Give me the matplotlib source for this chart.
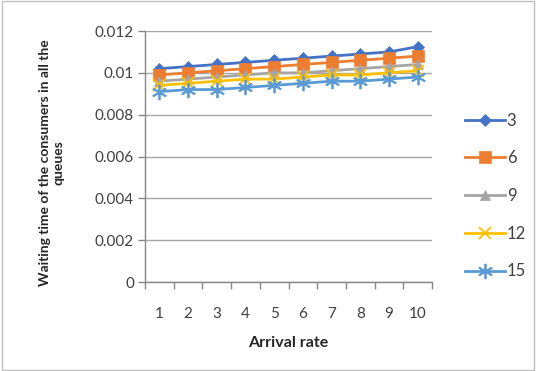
import matplotlib
matplotlib.use("Agg")
import matplotlib.pyplot as plt
from matplotlib.patches import Rectangle

plt.rcParams['font.family'] = ['Lato', 'DejaVu Sans']

arrival_rate = [1, 2, 3, 4, 5, 6, 7, 8, 9, 10]
series_names = ['3', '6', '9', '12', '15']
wait_3 = [0.0102, 0.0103, 0.0104, 0.0105, 0.0106, 0.0107, 0.0108, 0.0109, 0.0110, 0.01125]
wait_6 = [0.0099, 0.0100, 0.0101, 0.0102, 0.0103, 0.0104, 0.0105, 0.0106, 0.0107, 0.0108]
wait_9 = [0.0096, 0.0097, 0.0098, 0.0099, 0.0100, 0.0100, 0.0101, 0.0102, 0.0103, 0.0104]
wait_12 = [0.0094, 0.0095, 0.0096, 0.0097, 0.0097, 0.0098, 0.0099, 0.0099, 0.0100, 0.0101]
wait_15 = [0.0091, 0.0092, 0.0092, 0.0093, 0.0094, 0.0095, 0.0096, 0.0096, 0.0097, 0.0098]
y_ticks = [0, 0.002, 0.004, 0.006, 0.008, 0.01, 0.012]
y_tick_labels = ['0', '0.002', '0.004', '0.006', '0.008', '0.01', '0.012']

colors = ['#4472C4', '#ED7D31', '#A5A5A5', '#FFC000', '#5B9BD5']
markers = ['D', 's', '^', 'x', (6, 2, 0)]
msizes = [6, 8, 7, 9, 11]

fig = plt.figure(figsize=(5.36, 3.71), dpi=100)
fig.patches.append(Rectangle((0.003, 0.003), 0.994, 0.994, transform=fig.transFigure,
                             fill=False, edgecolor='#BFBFBF', linewidth=1))

W, H = 536, 371
left, right, top, bottom = 145, 432, 31, 282
ax = fig.add_axes([left / W, 1 - bottom / H, (right - left) / W, (bottom - top) / H])

for vals, name, c, m, ms in zip([wait_3, wait_6, wait_9, wait_12, wait_15],
                                series_names, colors, markers, msizes):
    ax.plot(arrival_rate, vals, color=c, linewidth=2.0, marker=m, markersize=ms,
            markeredgewidth=1.3 if m in ('x', (6, 2, 0)) else 0.5,
            markeredgecolor=c, markerfacecolor=c, label=name, zorder=3)

ax.set_xlim(0.5, 10.5)
ax.set_ylim(0, 0.012)
ax.set_yticks(y_ticks)
ax.set_yticklabels(y_tick_labels)
ax.set_xticks(arrival_rate)
ax.set_xticks([x + 0.5 for x in [0] + arrival_rate], minor=True)
ax.tick_params(axis='x', which='major', length=0, pad=18, labelsize=11, colors='#404040')
ax.tick_params(axis='x', which='minor', length=5, color='#868686', width=1)
ax.tick_params(axis='y', length=5, color='#868686', width=1, labelsize=11,
               labelcolor='#404040', pad=3)
ax.grid(axis='y', color='#A6A6A6', linewidth=1)
ax.set_axisbelow(True)
for s in ('top', 'right'):
    ax.spines[s].set_visible(False)
ax.spines['left'].set_color('#868686')
ax.spines['bottom'].set_color('#868686')
ax.spines['left'].set_linewidth(1)
ax.spines['bottom'].set_linewidth(1)

ax.set_xlabel('Arrival rate', fontsize=11.5, fontweight='bold', color='#262626', labelpad=11)
fig.text(52 / W, 1 - 163 / H, 'Waiting time of the consumers in all the\nqueues',
         rotation=90, ha='center', va='center', fontsize=10, fontweight='bold',
         color='#262626', linespacing=1.1, multialignment='center')

handles, labels = ax.get_legend_handles_labels()
leg = fig.legend(handles, labels, loc='center left',
                 bbox_to_anchor=(450 / W, 1 - 196 / H), frameon=False,
                 fontsize=12, handlelength=2.4, handletextpad=0.1,
                 labelspacing=1.3, labelcolor='#404040')

fig.savefig('out.png', dpi=100)
